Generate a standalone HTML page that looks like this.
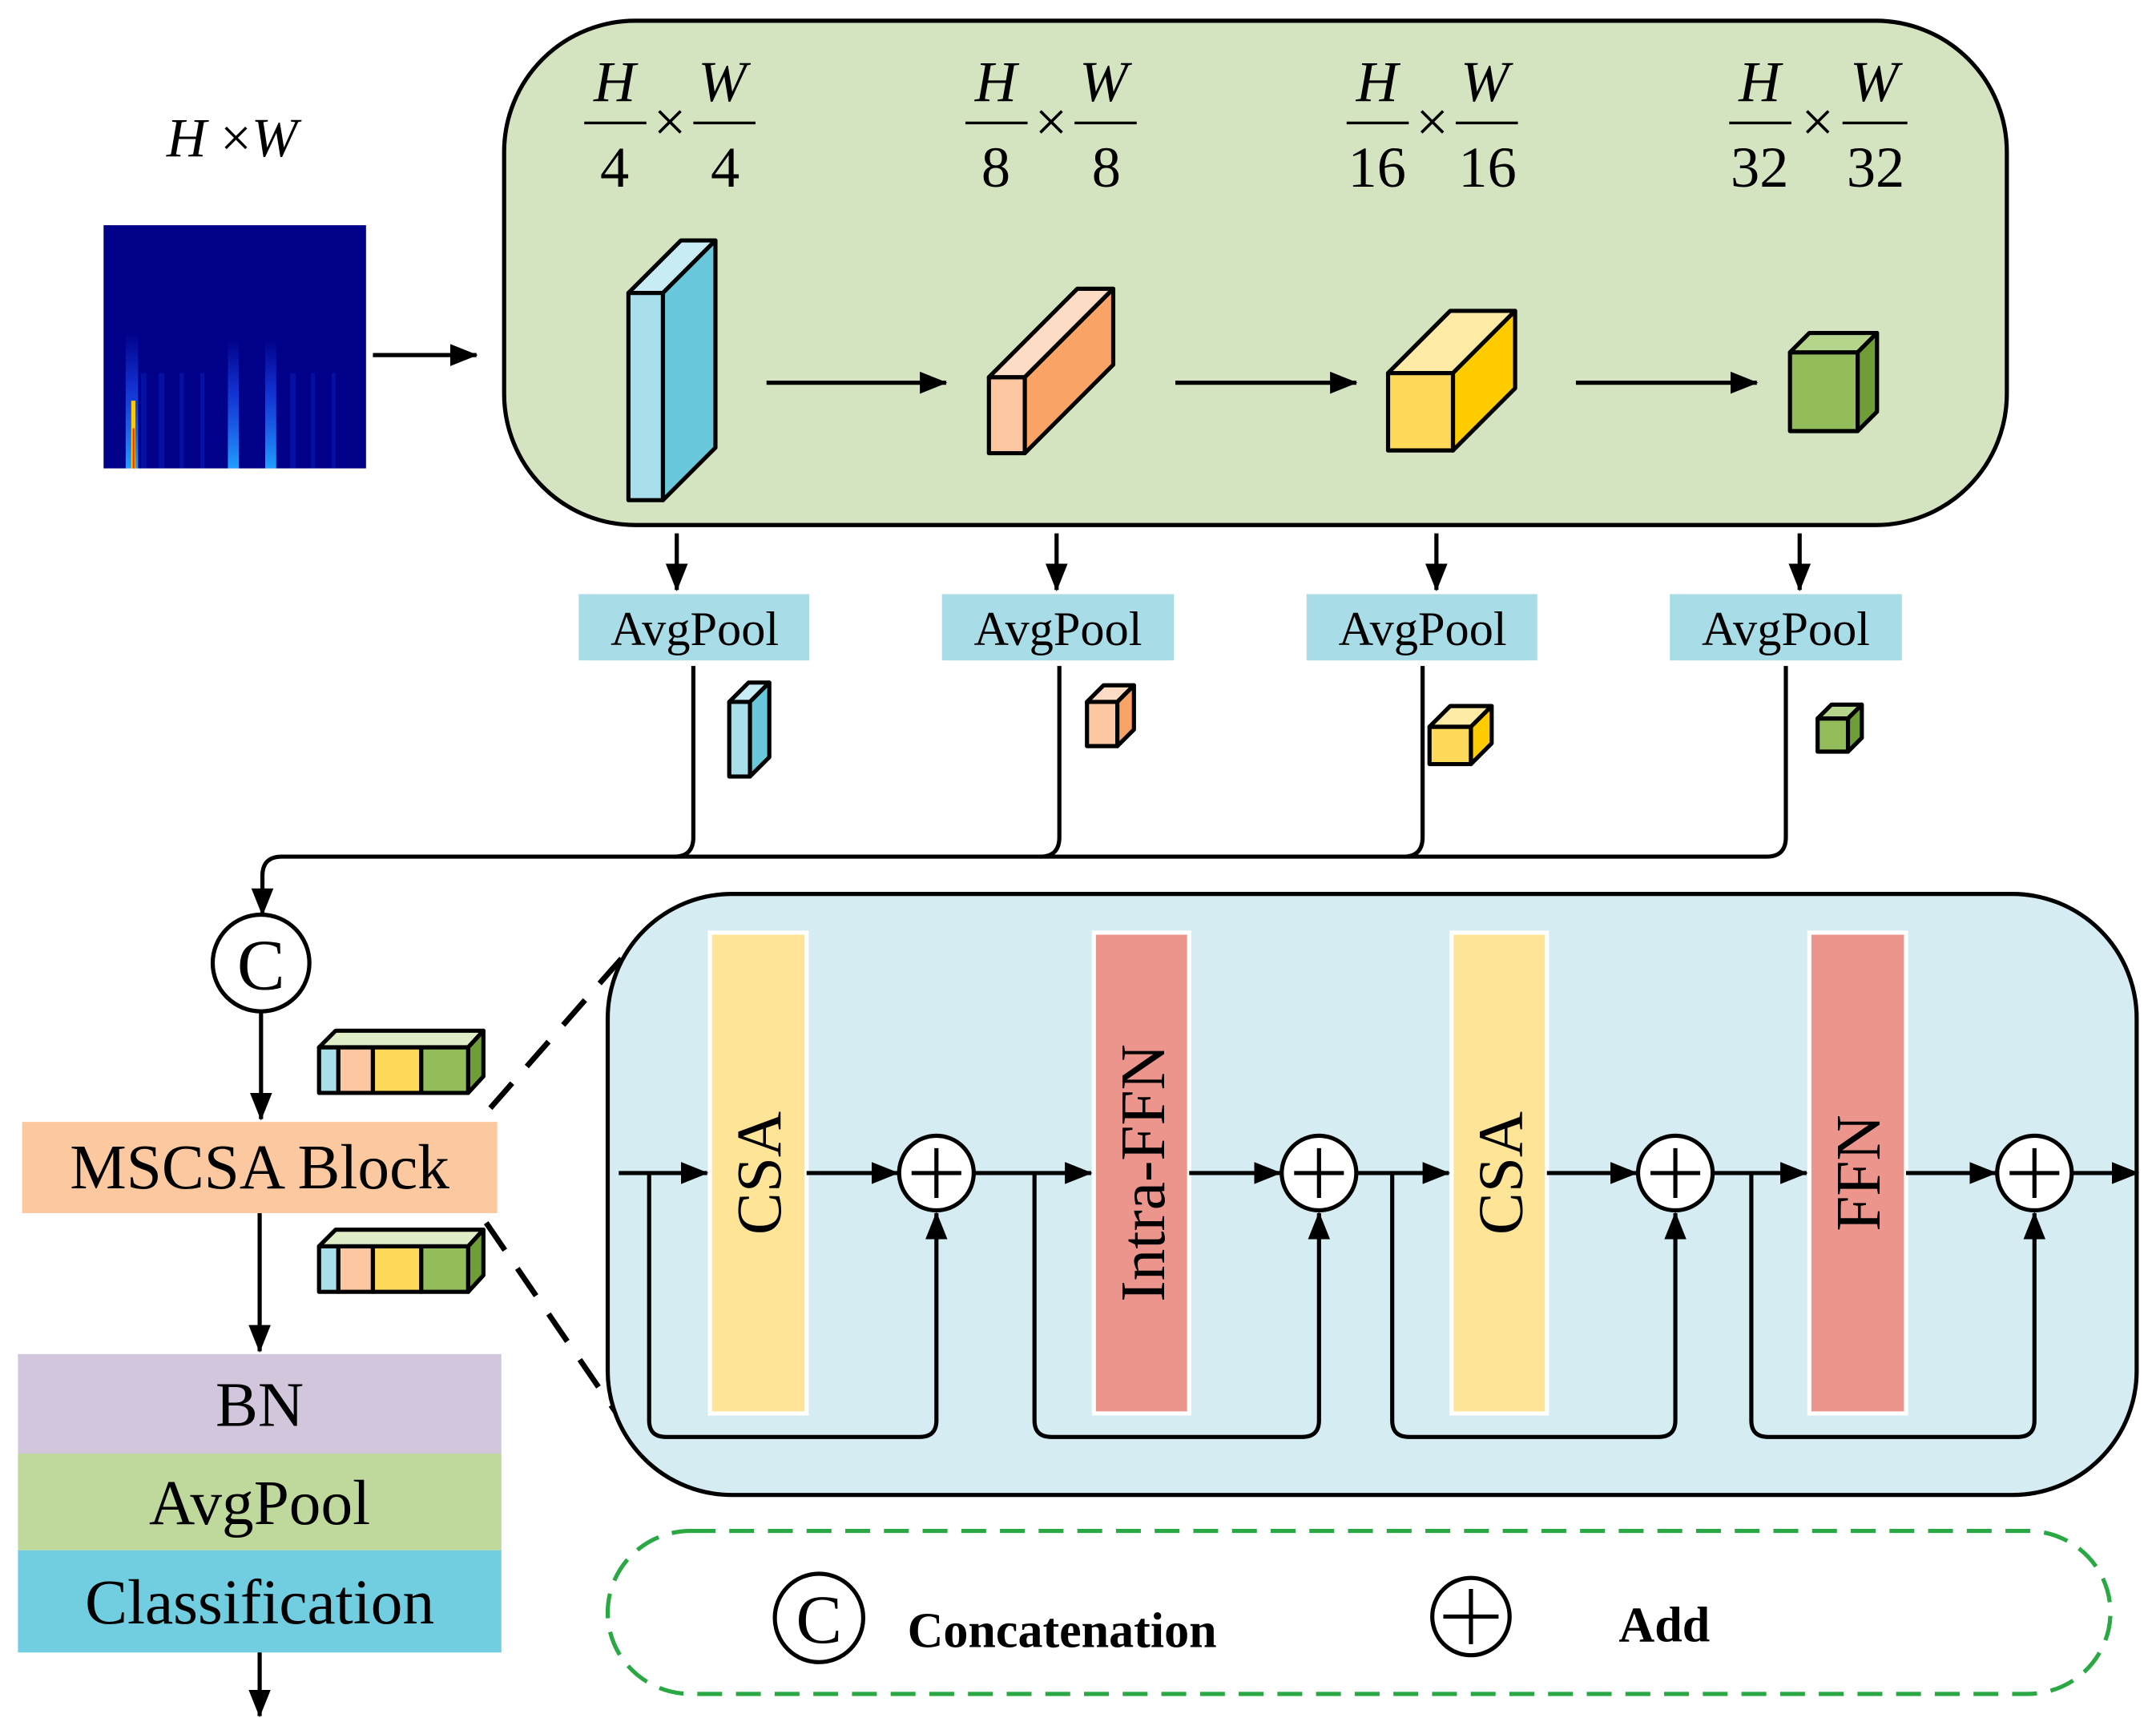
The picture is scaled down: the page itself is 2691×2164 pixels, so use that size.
<!DOCTYPE html>
<html><head><meta charset="utf-8"><style>html,body{margin:0;padding:0;background:#fff}svg{display:block}</style></head><body>
<svg width="2691" height="2164" viewBox="0 0 1561 1255" preserveAspectRatio="none" xmlns="http://www.w3.org/2000/svg" font-family="Liberation Serif, serif">
<defs>
<marker id="b" markerWidth="20" markerHeight="16" refX="19" refY="8" orient="auto" markerUnits="userSpaceOnUse" viewBox="0 0 20 16"><path d="M0,0 L20,8 L0,16 z" fill="#000"/></marker>
<linearGradient id="st" x1="0" y1="0" x2="0" y2="1"><stop offset="0" stop-color="#1e50ff" stop-opacity="0"/><stop offset="0.4" stop-color="#1e50ff" stop-opacity="0.6"/><stop offset="1" stop-color="#20a0ff" stop-opacity="1"/></linearGradient>
</defs>
<!-- top -->
<text x="168" y="113" font-size="40" font-style="italic" text-anchor="middle">H <tspan font-style="normal">×</tspan>W</text>
<rect x="75" y="163" width="190" height="176" fill="#000088"/>
<g fill="url(#st)">
<rect x="91" y="240" width="9" height="99"/><rect x="165" y="245" width="8" height="94"/><rect x="192" y="245" width="8" height="94"/>
</g>
<g fill="#1030d0" opacity="0.35">
<rect x="102" y="270" width="4" height="69"/><rect x="115" y="270" width="4" height="69"/><rect x="130" y="270" width="3" height="69"/><rect x="145" y="270" width="3" height="69"/><rect x="210" y="270" width="4" height="69"/><rect x="225" y="270" width="3" height="69"/><rect x="240" y="270" width="3" height="69"/>
</g>
<rect x="95" y="290" width="3" height="49" fill="#ffcc00"/>
<rect x="96" y="310" width="1.5" height="29" fill="#ff3300"/>
<line x1="270" y1="257" x2="345" y2="257" stroke="#000" stroke-width="3" marker-end="url(#b)"/>
<rect x="365" y="15" width="1088" height="365" rx="95" fill="#d5e4c0" stroke="#000" stroke-width="3"/>
<g font-size="42" text-anchor="middle">
<g font-style="italic"><text x="445" y="73">H</text><text x="523" y="73">W</text><text x="721" y="73">H</text><text x="799" y="73">W</text><text x="997" y="73">H</text><text x="1075" y="73">W</text><text x="1274" y="73">H</text><text x="1357" y="73">W</text></g>
<text x="445" y="135">4</text><text x="525" y="135">4</text><text x="721" y="135">8</text><text x="801" y="135">8</text><text x="997" y="135">16</text><text x="1077" y="135">16</text><text x="1274" y="135">32</text><text x="1358" y="135">32</text>
<text x="485" y="102">×</text><text x="761" y="102">×</text><text x="1037" y="102">×</text><text x="1316" y="102">×</text>
</g>
<g stroke="#000" stroke-width="2"><line x1="423" y1="89" x2="468" y2="89"/><line x1="502" y1="89" x2="547" y2="89"/><line x1="699" y1="89" x2="744" y2="89"/><line x1="778" y1="89" x2="823" y2="89"/><line x1="975" y1="89" x2="1020" y2="89"/><line x1="1054" y1="89" x2="1099" y2="89"/><line x1="1252" y1="89" x2="1297" y2="89"/><line x1="1334" y1="89" x2="1381" y2="89"/></g>
<g stroke="#000" stroke-width="3" stroke-linejoin="round">
<rect x="455" y="212" width="25" height="150" fill="#a8dfea"/><polygon points="455,212 493,174 518,174 480,212" fill="#c8ecf3"/><polygon points="480,212 518,174 518,324 480,362" fill="#6ac8dc"/>
<rect x="716" y="273" width="26" height="55" fill="#fcc6a0"/><polygon points="716,273 780,209 806,209 742,273" fill="#fddcc5"/><polygon points="742,273 806,209 806,264 742,328" fill="#f9a466"/>
<rect x="1005" y="270" width="47" height="56" fill="#fed95a"/><polygon points="1005,270 1050,225 1097,225 1052,270" fill="#fdeaa5"/><polygon points="1052,270 1097,225 1097,281 1052,326" fill="#ffcc00"/>
<rect x="1296" y="255" width="49" height="57" fill="#92bd5a"/><polygon points="1296,255 1310,241 1359,241 1345,255" fill="#b5d48c"/><polygon points="1345,255 1359,241 1359,298 1345,312" fill="#6f9e38"/>
<rect x="528" y="508" width="15" height="54" fill="#a8dfea"/><polygon points="528,508 542,494 557,494 543,508" fill="#c8ecf3"/><polygon points="543,508 557,494 557,548 543,562" fill="#6ac8dc"/>
<rect x="787" y="508" width="22" height="32" fill="#fcc6a0"/><polygon points="787,508 799,496 821,496 809,508" fill="#fddcc5"/><polygon points="809,508 821,496 821,528 809,540" fill="#f9a466"/>
<rect x="1035" y="526" width="30" height="27" fill="#fed95a"/><polygon points="1035,526 1050,511 1080,511 1065,526" fill="#fdeaa5"/><polygon points="1065,526 1080,511 1080,538 1065,553" fill="#ffcc00"/>
<rect x="1316" y="520" width="22" height="24" fill="#92bd5a"/><polygon points="1316,520 1326,510 1348,510 1338,520" fill="#b5d48c"/><polygon points="1338,520 1348,510 1348,534 1338,544" fill="#6f9e38"/>
</g>
<g stroke="#000" stroke-width="3" fill="none">
<line x1="555" y1="277" x2="685" y2="277" marker-end="url(#b)"/><line x1="851" y1="277" x2="982" y2="277" marker-end="url(#b)"/><line x1="1141" y1="277" x2="1272" y2="277" marker-end="url(#b)"/>
<line x1="490" y1="386" x2="490" y2="427" marker-end="url(#b)"/><line x1="765" y1="386" x2="765" y2="427" marker-end="url(#b)"/><line x1="1040" y1="386" x2="1040" y2="427" marker-end="url(#b)"/><line x1="1303" y1="386" x2="1303" y2="427" marker-end="url(#b)"/>
<path d="M502,482 V606 Q502,620 488,620"/><path d="M767,482 V606 Q767,620 753,620"/><path d="M1030,482 V606 Q1030,620 1016,620"/>
<path d="M1293,482 V606 Q1293,620 1279,620 H204 Q190,620 190,634 V662" marker-end="url(#b)"/>
</g>
<g fill="#a8dde8"><rect x="419" y="430" width="167" height="48"/><rect x="682" y="430" width="168" height="48"/><rect x="946" y="430" width="167" height="48"/><rect x="1209" y="430" width="168" height="48"/></g>
<g font-size="35" text-anchor="middle"><text x="503" y="467">AvgPool</text><text x="766" y="467">AvgPool</text><text x="1030" y="467">AvgPool</text><text x="1293" y="467">AvgPool</text></g>
<!-- left column -->
<circle cx="189" cy="697" r="35" fill="#fff" stroke="#000" stroke-width="3"/>
<text x="189" y="716" font-size="52" text-anchor="middle">C</text>
<line x1="189" y1="732" x2="189" y2="810" stroke="#000" stroke-width="3" marker-end="url(#b)"/>
<rect x="16" y="812" width="344" height="66" fill="#fcc8a0"/>
<text x="188" y="860" font-size="46" text-anchor="middle">MSCSA Block</text>
<line x1="188" y1="878" x2="188" y2="978" stroke="#000" stroke-width="3" marker-end="url(#b)"/>
<rect x="13" y="980" width="350" height="72" fill="#d2c6dd"/>
<rect x="13" y="1052" width="350" height="70" fill="#bfd89c"/>
<rect x="13" y="1122" width="350" height="74" fill="#71cde0"/>
<g font-size="46" text-anchor="middle"><text x="188" y="1032">BN</text><text x="188" y="1103">AvgPool</text><text x="188" y="1175">Classification</text></g>
<line x1="188" y1="1196" x2="188" y2="1242" stroke="#000" stroke-width="3" marker-end="url(#b)"/>
<g stroke="#000" stroke-width="3" stroke-linejoin="round">
<g>
<rect x="231" y="758" width="14" height="33" fill="#a8dfea"/><rect x="245" y="758" width="25" height="33" fill="#fcc6a0"/><rect x="270" y="758" width="35" height="33" fill="#fed95a"/><rect x="305" y="758" width="34" height="33" fill="#92bd5a"/>
<polygon points="231,758 243,746 350,746 339,758" fill="#e0eec8"/><polygon points="339,758 350,746 350,779 339,791" fill="#6f9e38"/>
</g>
<g transform="translate(0,144)">
<rect x="231" y="758" width="14" height="33" fill="#a8dfea"/><rect x="245" y="758" width="25" height="33" fill="#fcc6a0"/><rect x="270" y="758" width="35" height="33" fill="#fed95a"/><rect x="305" y="758" width="34" height="33" fill="#92bd5a"/>
<polygon points="231,758 243,746 350,746 339,758" fill="#e0eec8"/><polygon points="339,758 350,746 350,779 339,791" fill="#6f9e38"/>
</g>
</g>
<g stroke="#000" stroke-width="4" stroke-dasharray="24,16"><line x1="355" y1="802" x2="462" y2="680"/><line x1="352" y1="885" x2="456" y2="1037"/></g>
<!-- MSCSA detail -->
<rect x="440" y="647" width="1107" height="435" rx="90" fill="#d5edf2" stroke="#000" stroke-width="3"/>
<g stroke="#fff" stroke-width="3">
<rect x="514" y="675" width="70" height="348" fill="#fde497"/><rect x="792" y="675" width="69" height="348" fill="#ec958c"/><rect x="1051" y="675" width="69" height="348" fill="#fde497"/><rect x="1310" y="675" width="70" height="348" fill="#ec958c"/>
</g>
<g font-size="46" text-anchor="middle">
<text transform="translate(565,849) rotate(-90)">CSA</text><text transform="translate(843,849) rotate(-90)">Intra-FFN</text><text transform="translate(1102,849) rotate(-90)">CSA</text><text transform="translate(1361,849) rotate(-90)">FFN</text>
</g>
<g stroke="#000" stroke-width="3" fill="none">
<line x1="448" y1="849" x2="512" y2="849" marker-end="url(#b)"/><line x1="584" y1="849" x2="650" y2="849" marker-end="url(#b)"/>
<line x1="706" y1="849" x2="790" y2="849" marker-end="url(#b)"/><line x1="861" y1="849" x2="927" y2="849" marker-end="url(#b)"/>
<line x1="983" y1="849" x2="1049" y2="849" marker-end="url(#b)"/><line x1="1120" y1="849" x2="1185" y2="849" marker-end="url(#b)"/>
<line x1="1241" y1="849" x2="1308" y2="849" marker-end="url(#b)"/><line x1="1380" y1="849" x2="1445" y2="849" marker-end="url(#b)"/>
<line x1="1501" y1="849" x2="1548" y2="849" marker-end="url(#b)"/>
<path d="M470,849 V1028 Q470,1040 482,1040 H666 Q678,1040 678,1028 V878" marker-end="url(#b)"/>
<path d="M749,849 V1028 Q749,1040 761,1040 H943 Q955,1040 955,1028 V878" marker-end="url(#b)"/>
<path d="M1008,849 V1028 Q1008,1040 1020,1040 H1201 Q1213,1040 1213,1028 V878" marker-end="url(#b)"/>
<path d="M1268,849 V1028 Q1268,1040 1280,1040 H1461 Q1473,1040 1473,1028 V878" marker-end="url(#b)"/>
</g>
<g stroke="#000" stroke-width="3" fill="#fff">
<circle cx="678" cy="849" r="27"/><circle cx="955" cy="849" r="27"/><circle cx="1213" cy="849" r="27"/><circle cx="1473" cy="849" r="27"/>
</g>
<g stroke="#000" stroke-width="3">
<path d="M660,849 H696 M678,831 V867"/><path d="M937,849 H973 M955,831 V867"/><path d="M1195,849 H1231 M1213,831 V867"/><path d="M1455,849 H1491 M1473,831 V867"/>
</g>
<!-- legend -->
<rect x="440" y="1108" width="1088" height="118" rx="60" fill="none" stroke="#2aa844" stroke-width="3" stroke-dasharray="18,10"/>
<circle cx="593" cy="1171" r="32" fill="#fff" stroke="#000" stroke-width="3"/>
<text x="593" y="1189" font-size="50" text-anchor="middle">C</text>
<text x="657" y="1192" font-size="36" font-weight="bold">Concatenation</text>
<circle cx="1065" cy="1170" r="28" fill="#fff" stroke="#000" stroke-width="3"/>
<path d="M1045,1170 H1085 M1065,1150 V1190" stroke="#000" stroke-width="3"/>
<text x="1172" y="1188" font-size="36" font-weight="bold">Add</text>
</svg>
</body></html>
